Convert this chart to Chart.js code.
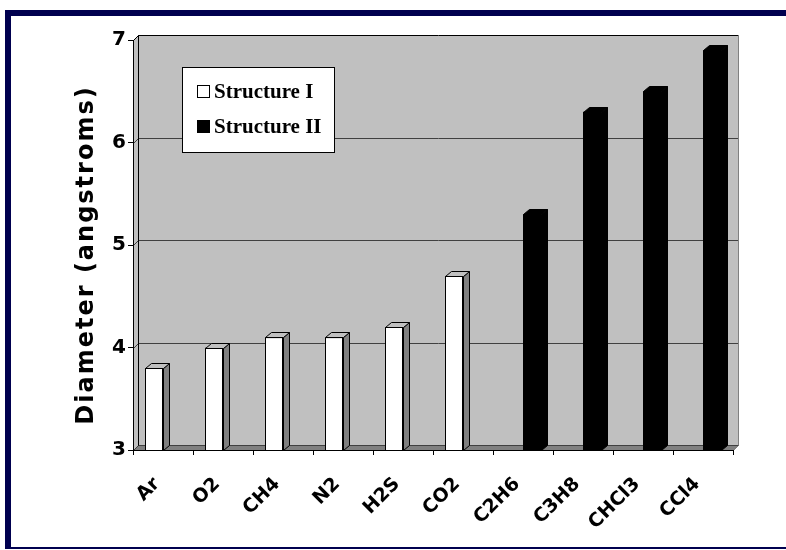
<!DOCTYPE html>
<html>
<head>
<meta charset="utf-8">
<script src="https://cdn.jsdelivr.net/npm/chart.js@4/dist/chart.umd.min.js"></script>
<style>
  html, body { margin: 0; padding: 0; background: #fff; }
  #wrap { width: 786px; height: 550px; }
</style>
</head>
<body>
<div id="wrap"><canvas id="c" width="786" height="550"></canvas></div>
<script>
// Guest molecules and their diameters, split by hydrate structure
const categories = ['Ar', 'O2', 'CH4', 'N2', 'H2S', 'CO2', 'C2H6', 'C3H8', 'CHCl3', 'CCl4'];
const structureI  = [3.8, 4.0, 4.1, 4.1, 4.2, 4.7, null, null, null, null];
const structureII = [null, null, null, null, null, null, 5.3, 6.3, 6.5, 6.9];
const seriesNames = ['Structure I', 'Structure II'];
const yTicks = [3, 4, 5, 6, 7];
const axisTitle = 'Diameter (angstroms)';

// Depth of the pseudo-3D walls and bars
const WALL_DX = 5, WALL_DY = 5;
const BAR_DX = 6, BAR_DY = 5;

function poly(ctx, pts, fill, stroke) {
  ctx.beginPath();
  ctx.moveTo(pts[0][0], pts[0][1]);
  for (let i = 1; i < pts.length; i++) ctx.lineTo(pts[i][0], pts[i][1]);
  ctx.closePath();
  if (fill) { ctx.fillStyle = fill; ctx.fill(); }
  if (stroke) { ctx.strokeStyle = stroke; ctx.lineWidth = 1; ctx.stroke(); }
}

const depthPlugin = {
  id: 'depth3d',
  beforeDraw(chart) {
    const ctx = chart.ctx;
    const { left, right, top, bottom } = chart.chartArea;
    ctx.save();
    ctx.fillStyle = '#ffffff';
    ctx.fillRect(0, 0, chart.width, chart.height);
    // frame
    ctx.fillStyle = '#00004f';
    ctx.fillRect(5, 10, 781, 6);
    ctx.fillRect(5, 10, 6, 539);
    ctx.fillRect(5, 547, 781, 2);

    const L = left + 0.5, R = right + 0.5, T = top + 0.5, B = bottom + 0.5;
    // back wall
    poly(ctx, [[L + WALL_DX, T - WALL_DY], [R + WALL_DX, T - WALL_DY], [R + WALL_DX, B - WALL_DY], [L + WALL_DX, B - WALL_DY]], '#c0c0c0', null);
    // side wall
    poly(ctx, [[L, T], [L + WALL_DX, T - WALL_DY], [L + WALL_DX, B - WALL_DY], [L, B]], '#c0c0c0', '#000');
    // floor
    poly(ctx, [[L, B], [L + WALL_DX, B - WALL_DY], [R + WALL_DX, B - WALL_DY], [R, B]], '#808080', '#000');

    // gridlines along side wall and back wall
    const ys = chart.scales.y;
    ctx.lineWidth = 1;
    yTicks.forEach(v => {
      const py = Math.round(ys.getPixelForValue(v)) + 0.5;
      ctx.beginPath();
      ctx.moveTo(L, py);
      ctx.lineTo(L + WALL_DX, py - WALL_DY);
      ctx.lineTo(R + WALL_DX, py - WALL_DY);
      ctx.strokeStyle = v === 7 ? '#000' : '#404040';
      ctx.stroke();
    });
    // back wall edges
    ctx.strokeStyle = '#000';
    ctx.beginPath();
    ctx.moveTo(L + WALL_DX, T - WALL_DY);
    ctx.lineTo(L + WALL_DX, B - WALL_DY);
    ctx.stroke();
    ctx.strokeStyle = '#808080';
    ctx.beginPath();
    ctx.moveTo(R + WALL_DX, T - WALL_DY);
    ctx.lineTo(R + WALL_DX, B - WALL_DY);
    ctx.lineTo(R, B);
    ctx.stroke();
    ctx.restore();
  },
  afterDatasetsDraw(chart) {
    const ctx = chart.ctx;
    const floor = chart.chartArea.bottom;
    ctx.save();
    chart.data.datasets.forEach((ds, di) => {
      const meta = chart.getDatasetMeta(di);
      const dark = di === 1;
      meta.data.forEach((el, i) => {
        if (ds.data[i] === null) return;
        const x0 = Math.round(el.x - el.width / 2) + 0.5;
        const x1 = Math.round(el.x + el.width / 2) + 0.5;
        const yt = Math.round(el.y) + 0.5;
        const yb = Math.round(Math.min(el.base, floor)) + 0.5;
        // side face
        poly(ctx, [[x1, yt], [x1 + BAR_DX, yt - BAR_DY], [x1 + BAR_DX, yb - BAR_DY], [x1, yb]], dark ? '#000' : '#808080', '#000');
        // top face
        poly(ctx, [[x0, yt], [x1, yt], [x1 + BAR_DX, yt - BAR_DY], [x0 + BAR_DX, yt - BAR_DY]], dark ? '#000' : '#c0c0c0', '#000');
      });
    });
    ctx.restore();
  },
  afterDraw(chart) {
    const ctx = chart.ctx;
    ctx.save();
    // legend box
    ctx.fillStyle = '#fff';
    ctx.fillRect(182.5, 67.5, 152, 85);
    ctx.strokeStyle = '#000';
    ctx.lineWidth = 1;
    ctx.strokeRect(182.5, 67.5, 152, 85);
    const rows = [98, 133];
    chart.data.datasets.forEach((ds, di) => {
      const by = rows[di];
      ctx.fillStyle = ds.backgroundColor;
      ctx.fillRect(197.5, by - 12.5, 12, 12);
      ctx.strokeStyle = '#000';
      ctx.strokeRect(197.5, by - 12.5, 12, 12);
      ctx.fillStyle = '#000';
      ctx.font = 'bold 21px "Liberation Serif"';
      ctx.textAlign = 'left';
      ctx.textBaseline = 'alphabetic';
      ctx.fillText(ds.label, 214, by);
    });
    // value axis title
    ctx.translate(87, 255);
    ctx.rotate(-Math.PI / 2);
    ctx.font = 'bold 24px "DejaVu Sans"';
    ctx.letterSpacing = '2px';
    ctx.textAlign = 'center';
    ctx.textBaseline = 'middle';
    ctx.fillStyle = '#000';
    ctx.fillText(axisTitle, 0, 0);
    ctx.restore();
  }
};

new Chart(document.getElementById('c'), {
  type: 'bar',
  data: {
    labels: categories,
    datasets: [
      { label: seriesNames[0], data: structureI, backgroundColor: '#ffffff', borderColor: '#000000', borderWidth: 1 },
      { label: seriesNames[1], data: structureII, backgroundColor: '#000000', borderColor: '#000000', borderWidth: 0 }
    ]
  },
  options: {
    responsive: false,
    animation: false,
    devicePixelRatio: 1,
    categoryPercentage: 0.6,
    barPercentage: 1.0,
    layout: { padding: { left: 0, top: 40, right: 53, bottom: 0 } },
    plugins: { legend: { display: false }, tooltip: { enabled: false } },
    scales: {
      x: {
        grid: { display: true, drawOnChartArea: false, offset: true, tickLength: 5, color: '#000' },
        border: { display: true, color: '#000' },
        ticks: {
          minRotation: 45, maxRotation: 45, autoSkip: false, padding: 18, labelOffset: -6,
          color: '#000', font: { family: 'DejaVu Sans', weight: 'bold', size: 19 }
        },
        afterFit(scale) { scale.height = 100; }
      },
      y: {
        min: 3, max: 7,
        grid: { display: true, drawOnChartArea: false, tickLength: 5, color: '#000' },
        border: { display: true, color: '#000' },
        ticks: {
          stepSize: 1, padding: 2, color: '#000',
          font: { family: 'DejaVu Sans', weight: 'bold', size: 20 }
        },
        afterFit(scale) { scale.width = 133; }
      }
    }
  },
  plugins: [depthPlugin]
});
</script>
</body>
</html>
